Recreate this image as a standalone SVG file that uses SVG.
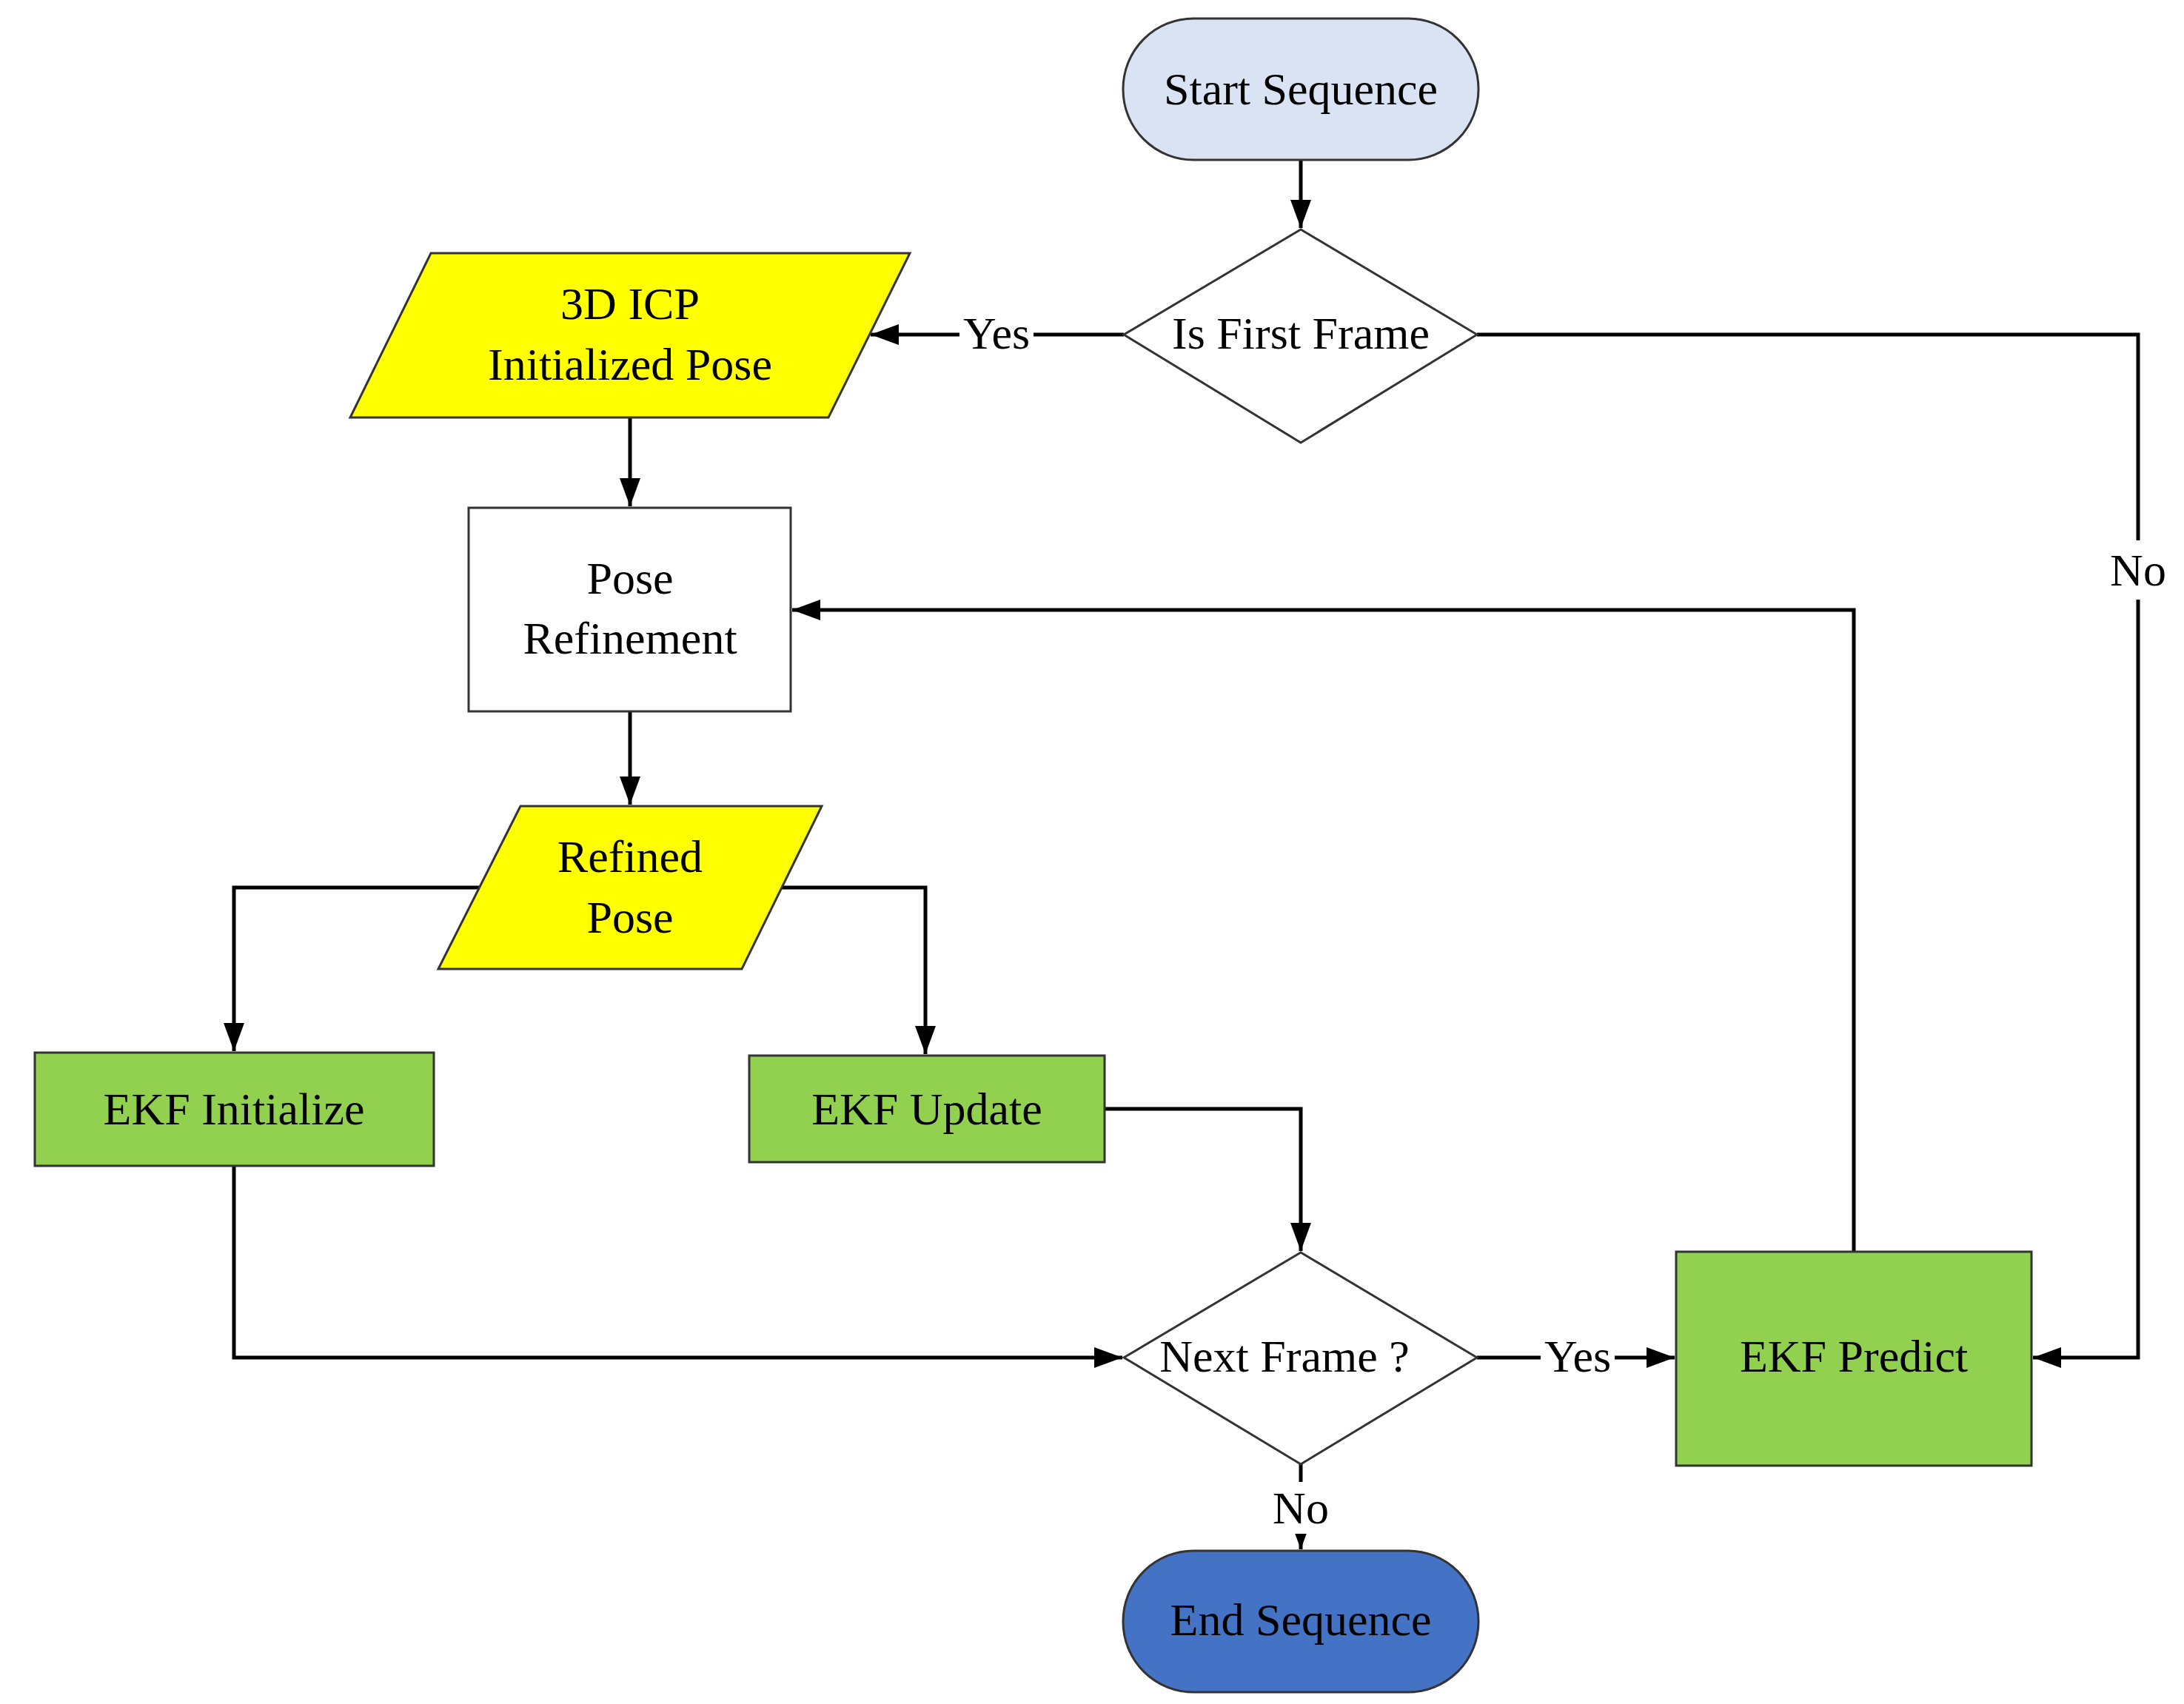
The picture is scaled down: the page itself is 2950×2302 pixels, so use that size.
<svg xmlns="http://www.w3.org/2000/svg" width="2950" height="2302" viewBox="0 0 2950 2302">
<style>
text{font-family:"Liberation Serif","Times New Roman",serif;font-size:62px;fill:#000;text-anchor:middle;dominant-baseline:central}
.s{stroke:#333;stroke-width:3}
.c{fill:none;stroke:#000;stroke-width:5}
.g{fill:#92D050}
.y{fill:#FFFF00}
.lbl{fill:#fff;stroke:none}
</style>
<defs>
<marker id="a" markerUnits="userSpaceOnUse" markerWidth="40" markerHeight="30" refX="38" refY="14" orient="auto">
<path d="M0,0 L38,14 L0,28 Z" fill="#000"/>
</marker>
</defs>
<rect width="2950" height="2302" fill="#fff"/>
<g id="connectors">
<path class="c" d="M1757,216 V308" marker-end="url(#a)"/>
<path class="c" d="M1518,452 H1176" marker-end="url(#a)"/>
<path class="c" d="M1995,452 H2888 V1834 H2746" marker-end="url(#a)"/>
<path class="c" d="M851,564 V684" marker-end="url(#a)"/>
<path class="c" d="M2504,1691 V824 H1070" marker-end="url(#a)"/>
<path class="c" d="M851,961 V1087" marker-end="url(#a)"/>
<path class="c" d="M647,1199 H316 V1420" marker-end="url(#a)"/>
<path class="c" d="M1056,1199 H1250 V1424" marker-end="url(#a)"/>
<path class="c" d="M1492,1498 H1757 V1690" marker-end="url(#a)"/>
<path class="c" d="M316,1575 V1834 H1516" marker-end="url(#a)"/>
<path class="c" d="M1995,1834 H2262" marker-end="url(#a)"/>
<path class="c" d="M1757,1978 V2093" marker-end="url(#a)"/>
<rect class="lbl" x="1296" y="420" width="100" height="64"/>
<text x="1346" y="450">Yes</text>
<rect class="lbl" x="2848" y="730" width="80" height="80"/>
<text x="2888" y="770">No</text>
<rect class="lbl" x="2081" y="1802" width="100" height="64"/>
<text x="2131" y="1832">Yes</text>
<rect class="lbl" x="1717" y="2002" width="80" height="70"/>
<text x="1757" y="2037">No</text>
</g>
<g id="start"><rect class="s" x="1517" y="25" width="480" height="191" rx="95" fill="#DAE3F3"/><text x="1757" y="120">Start Sequence</text></g>
<g id="firstFrame"><polygon class="s" points="1757,310 1995,452 1757,598 1518,452" fill="#fff"/><text x="1757" y="450">Is First Frame</text></g>
<g id="icp"><polygon class="s y" points="582,342 1229,342 1119,564 473,564"/><text x="851" y="410">3D ICP</text><text x="851" y="492">Initialized Pose</text></g>
<g id="refinement"><rect class="s" x="633" y="686" width="435" height="275" fill="#fff"/><text x="851" y="781">Pose</text><text x="851" y="862">Refinement</text></g>
<g id="refined"><polygon class="s y" points="703,1089 1110,1089 1002,1309 592,1309"/><text x="851" y="1157">Refined</text><text x="851" y="1239">Pose</text></g>
<g id="ekfInit"><rect class="s g" x="47" y="1422" width="539" height="153"/><text x="316" y="1498">EKF Initialize</text></g>
<g id="ekfUpdate"><rect class="s g" x="1012" y="1426" width="480" height="144"/><text x="1252" y="1498">EKF Update</text></g>
<g id="nextFrame"><polygon class="s" points="1757,1692 1995,1834 1757,1978 1518,1834" fill="#fff"/><text x="1735" y="1832">Next Frame ?</text></g>
<g id="ekfPredict"><rect class="s g" x="2264" y="1691" width="480" height="289"/><text x="2504" y="1832">EKF Predict</text></g>
<g id="end"><rect class="s" x="1517" y="2095" width="480" height="191" rx="95" fill="#4472C4"/><text x="1757" y="2188">End Sequence</text></g>
</svg>
